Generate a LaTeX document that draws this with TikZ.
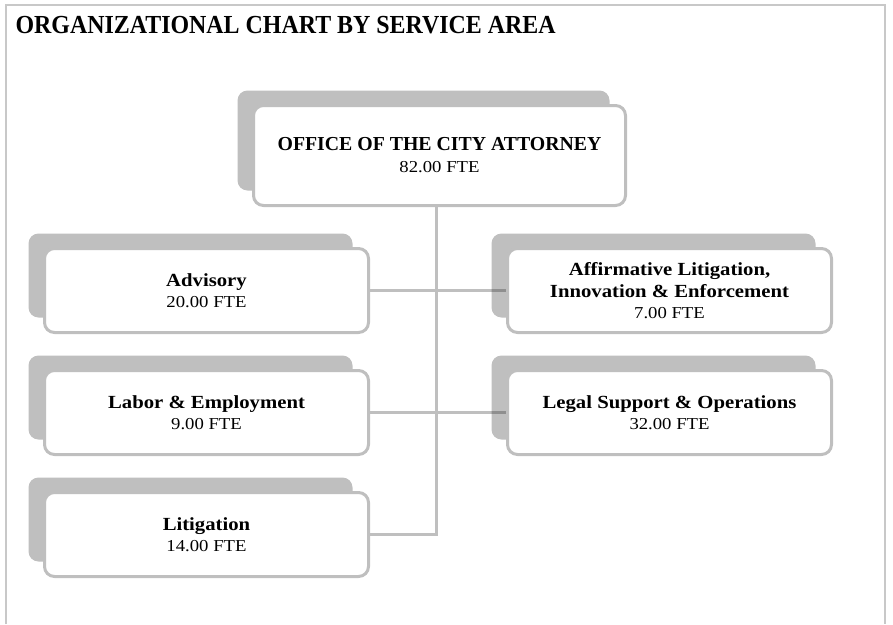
\documentclass[tikz,border=0pt]{standalone}
\usepackage{fontspec}
\setmainfont{Liberation Serif}
\newfontfamily\boxfont{Liberation Serif}[FakeStretch=1.12]
\newfontfamily\headfont{Liberation Serif}[FakeStretch=0.92]
\usepackage{xcolor}
\definecolor{edge}{HTML}{BFBFBF}
\definecolor{frame}{HTML}{C8C8C8}
\usepackage{tikz}
\usetikzlibrary{positioning,shadows,backgrounds}
\tikzset{
  unit/.style={draw=edge,line width=3pt,rounded corners=10pt,fill=white,align=center,
    minimum width=324pt,minimum height=84pt,inner sep=2pt,
    font=\boxfont\fontsize{18.5}{22}\selectfont\bfseries,
    drop shadow={shadow xshift=-16pt,shadow yshift=15pt,opacity=0.25,fill=black}},
  topunit/.style={unit,minimum width=372pt,minimum height=100pt,font=\rmfamily\fontsize{19.8}{23}\selectfont\bfseries},
  conn/.style={draw=edge,line width=3pt},
}
\newcommand{\fte}[1]{\\[-1pt]{\boxfont\fontsize{16.7}{22}\selectfont\mdseries #1 FTE}}

\begin{document}
\begin{tikzpicture}[x=1pt,y=-1pt,node distance=35pt and 136pt]
\useasboundingbox (0,0) rectangle (893,624);
\draw[frame,line width=2pt] (6,624) -- (6,5) -- (885,5) -- (885,624);
\node[anchor=base west,font=\headfont\fontsize{26}{28}\selectfont\bfseries] (title) at (12,33) {ORGANIZATIONAL CHART BY SERVICE AREA};
\node[topunit] (office) at (439.5,155.5) {OFFICE OF THE CITY ATTORNEY\fte{82.00}};
\node[unit] (adv) at (206.5,290.5) {Advisory\fte{20.00}};
\node[unit,below=of adv] (labor) {Labor \& Employment\fte{9.00}};
\node[unit,below=of labor] (lit) {Litigation\fte{14.00}};
\node[unit,right=of adv] (aff) {Affirmative Litigation,\\ Innovation \& Enforcement\fte{7.00}};
\node[unit,right=of labor] (legal) {Legal Support \& Operations\fte{32.00}};
\coordinate (trunk) at ([xshift=-3pt]office.south);
\begin{scope}[on background layer]
\draw[conn] (trunk) -- (trunk |- lit.east) -- (lit.east);
\foreach \u/\v in {adv/aff,labor/legal} \draw[conn] (\u.east) -- (\u.east -| \v.west);
\end{scope}
\end{tikzpicture}
\end{document}
